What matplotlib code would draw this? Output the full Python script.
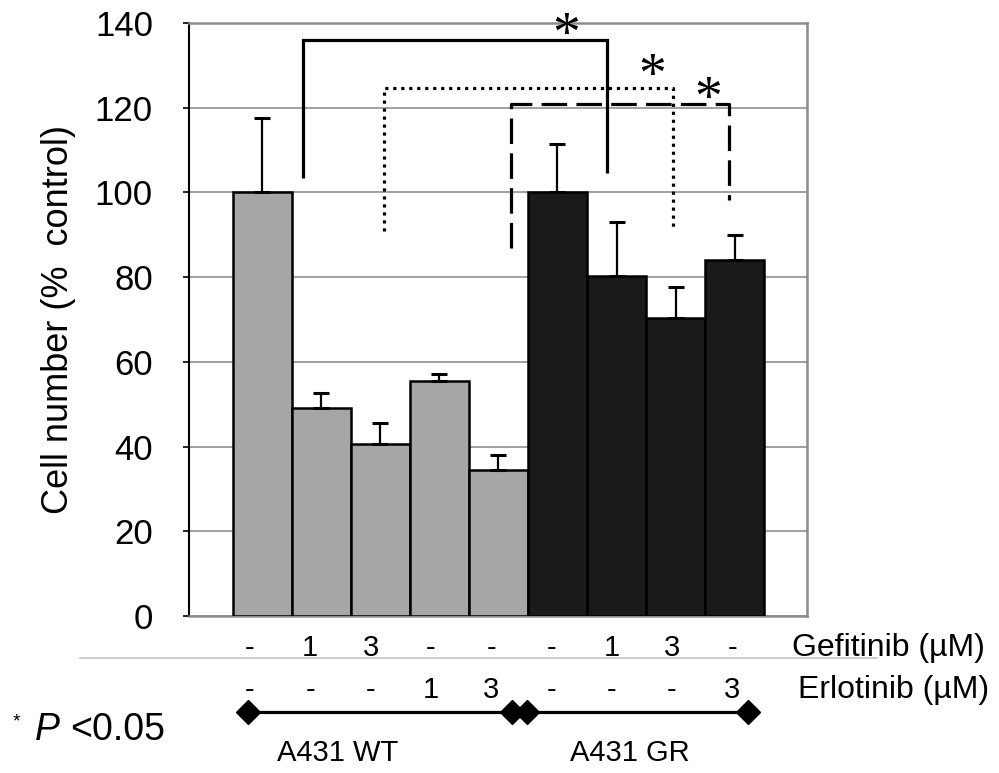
import matplotlib
matplotlib.use("Agg")
import matplotlib.pyplot as plt
import matplotlib.transforms as mtransforms
from matplotlib.lines import Line2D
import numpy as np

plt.rcParams['font.family'] = ['Liberation Sans', 'DejaVu Sans']

# ---------------- data ----------------
values = [100, 49.2, 40.5, 55.4, 34.5, 100, 80.3, 70.3, 84.0]
errors = [17.6, 3.4, 5.1, 1.7, 3.6, 11.4, 12.8, 7.3, 5.9]
bar_colors = ['#a6a6a6'] * 5 + ['#1a1a1a'] * 4
gefitinib = ['-', '1', '3', '-', '-', '-', '1', '3', '-']
erlotinib = ['-', '-', '-', '1', '3', '-', '-', '-', '3']
groups = ['A431 WT', 'A431 GR']
group_spans = [(-0.24, 4.23), (4.48, 8.23)]
group_label_x = [1.28, 6.23]
yticks = [0, 20, 40, 60, 80, 100, 120, 140]

# significance brackets: (x_left, x_right, y_top, y_left_bottom, y_right_bottom, style)
brackets = [
    (0.69, 5.84, 136.0, 103.5, 104.5, '-'),
    (2.06, 6.96, 124.6, 91.0, 91.0, (0, (1, 1.5))),
    (4.22, 7.91, 120.8, 86.8, 98.2, (0, (8.0, 2.9))),
]
star_x = [5.14, 6.60, 7.55]
star_y = [139.8, 130.1, 124.6]

# ---------------- figure ----------------
W, H = 999, 773
fig = plt.figure(figsize=(W / 100, H / 100), dpi=100)
ax = fig.add_axes([189 / W, 1 - 616 / H, (807 - 189) / W, (616 - 23) / H])

x = np.arange(len(values))
ax.bar(x, values, width=1.0, color=bar_colors, edgecolor='black',
       linewidth=1.8, zorder=3)
ax.errorbar(x, values, yerr=[np.zeros(len(errors)), errors], fmt='none',
            ecolor='black', elinewidth=1.6, capsize=5.5, capthick=2.2,
            zorder=4)

ax.set_xlim(-1.24, 9.226)
ax.set_ylim(0, 140)
ax.set_yticks(yticks)
ax.set_yticklabels([str(t) for t in yticks], fontsize=25)
ax.set_xticks([])
ax.tick_params(axis='y', direction='out', length=4, width=1.2, pad=22,
               colors='black')
ax.set_axisbelow(True)
ax.yaxis.grid(True, color='#868686', linewidth=1.1)

ax.spines['left'].set_color('black')
ax.spines['left'].set_linewidth(1.5)
for s in ['top', 'right', 'bottom']:
    ax.spines[s].set_color('#8c8c8c')
    ax.spines[s].set_linewidth(1.8)

fig.text(59 / W, 1 - 319.5 / H, 'Cell number (%  control)', rotation=90,
         ha='center', va='center', fontsize=26)

# brackets
for xl, xr, yt, ybl, ybr, ls in brackets:
    ax.plot([xl, xl, xr, xr], [ybl, yt, yt, ybr], color='black',
            linewidth=2.3, linestyle=ls, clip_on=False, zorder=5,
            solid_joinstyle='miter', solid_capstyle='butt',
            dash_capstyle='butt')
for sx, sy in zip(star_x, star_y):
    ax.text(sx, sy - 6.4, '*', ha='center', va='baseline', fontsize=40,
            family='Liberation Serif', zorder=6, clip_on=False)

# bottom annotation rows
blend = mtransforms.blended_transform_factory(ax.transData, ax.transAxes)
row_x = [-0.207 + 1.021 * i for i in range(len(gefitinib))]
for rx, g, e in zip(row_x, gefitinib, erlotinib):
    ax.text(rx, -0.054, g, transform=blend, ha='center', va='center',
            fontsize=21)
    ax.text(rx, -0.125, e, transform=blend, ha='center', va='center',
            fontsize=21)
fig.text(792 / W, 1 - 648 / H, 'Gefitinib (µM)', ha='left', va='center',
         fontsize=23)
fig.text(798 / W, 1 - 690 / H, 'Erlotinib (µM)', ha='left', va='center',
         fontsize=23)

fig.add_artist(Line2D([80 / W, 877 / W], [1 - 658 / H] * 2,
                      color='#bdbdbd', linewidth=1.1))

for (g0, g1), name, lx in zip(group_spans, groups, group_label_x):
    ax.plot([g0, g1], [-0.162, -0.162], transform=blend, color='black',
            linewidth=2.3, marker='D', markersize=12, clip_on=False)
    ax.text(lx, -0.231, name, transform=blend, ha='center', va='center',
            fontsize=21)

fig.text(13 / W, 1 - 722 / H, '*', ha='left', va='center', fontsize=14)
fig.text(35 / W, 1 - 730 / H, 'P', ha='left', va='center', fontsize=27,
         style='italic')
fig.text(70 / W, 1 - 730 / H, '<0.05', ha='left', va='center', fontsize=27)

fig.savefig('out.png', dpi=100)
